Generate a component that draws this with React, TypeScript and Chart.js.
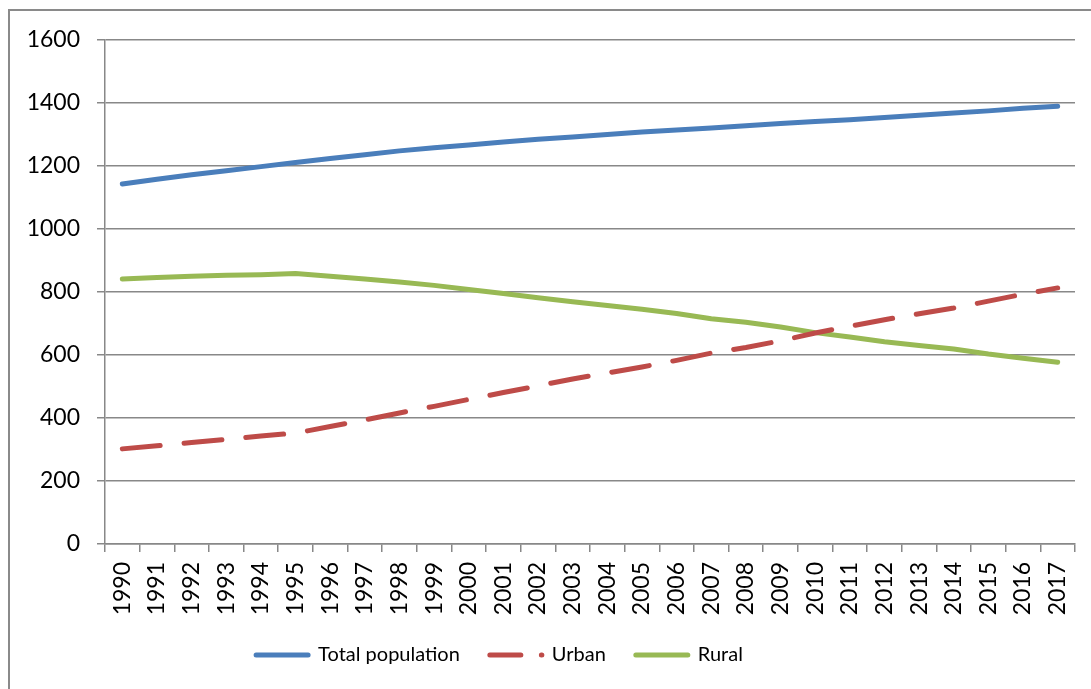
import React, { useEffect, useRef } from "react";
import { Chart, registerables } from "chart.js";

Chart.register(...registerables);

const years = [
  "1990", "1991", "1992", "1993", "1994", "1995", "1996", "1997", "1998", "1999",
  "2000", "2001", "2002", "2003", "2004", "2005", "2006", "2007", "2008", "2009",
  "2010", "2011", "2012", "2013", "2014", "2015", "2016", "2017",
];

const totalPopulation = [
  1143, 1158, 1172, 1185, 1198, 1211, 1224, 1236, 1248, 1258,
  1267, 1276, 1285, 1292, 1300, 1308, 1314, 1321, 1328, 1335,
  1341, 1347, 1354, 1361, 1368, 1375, 1383, 1390,
];

const urban = [
  302, 312, 322, 332, 343, 352, 373, 394, 416, 437,
  459, 481, 502, 524, 543, 562, 583, 606, 624, 645,
  670, 691, 712, 731, 749, 771, 793, 813,
];

const rural = [
  841, 846, 850, 853, 855, 859, 850, 841, 832, 821,
  808, 795, 782, 769, 757, 745, 732, 715, 704, 689,
  671, 657, 642, 630, 619, 603, 590, 577,
];

const seriesNames = ["Total population", "Urban", "Rural"];
const yMin = 0;
const yMax = 1600;
const yStep = 200;

const FONT = "Lato, 'Open Sans', sans-serif";
const GRID = "#888888";

export default function App() {
  const ref = useRef<HTMLCanvasElement | null>(null);

  useEffect(() => {
    if (!ref.current) return;
    const font = { family: FONT, size: 23 };
    const legendFont = { family: FONT, size: 20 };
    const legendShift = {
      id: "legendShift",
      afterLayout(chart: any) {
        if (chart.legend) {
          chart.legend.left -= 38;
          chart.legend.right -= 38;
        }
      },
    };
    const chart = new Chart(ref.current, {
      type: "line",
      data: {
        labels: years,
        datasets: [
          {
            label: seriesNames[0],
            data: totalPopulation,
            borderColor: "#4a7ebb",
            backgroundColor: "#4a7ebb",
            borderWidth: 5,
            pointRadius: 0,
            borderCapStyle: "round",
            borderJoinStyle: "round",
            tension: 0,
            fill: false,
          },
          {
            label: seriesNames[1],
            data: urban,
            borderColor: "#be4b48",
            backgroundColor: "#be4b48",
            borderWidth: 5,
            borderDash: [38, 24],
            pointRadius: 0,
            borderCapStyle: "round",
            borderJoinStyle: "round",
            tension: 0,
            fill: false,
          },
          {
            label: seriesNames[2],
            data: rural,
            borderColor: "#98b954",
            backgroundColor: "#98b954",
            borderWidth: 5,
            pointRadius: 0,
            borderCapStyle: "round",
            borderJoinStyle: "round",
            tension: 0,
            fill: false,
          },
        ],
      },
      options: {
        responsive: false,
        animation: false,
        events: [],
        layout: { padding: { left: 0, right: 16, top: 40, bottom: 14 } },
        plugins: {
          tooltip: { enabled: false },
          legend: {
            position: "bottom",
            labels: {
              usePointStyle: true,
              pointStyle: "line",
              pointStyleWidth: 52,
              font: legendFont,
              color: "#000",
              padding: 30,
              generateLabels(chart: any) {
                const items = Chart.defaults.plugins.legend.labels.generateLabels(chart);
                items.forEach((it: any) => {
                  it.lineCap = "round";
                  if (it.text === "Urban") it.lineDash = [31, 20.5];
                });
                return items;
              },
            },
          },
        },
        scales: {
          x: {
            offset: true,
            grid: {
              offset: true,
              drawOnChartArea: false,
              drawTicks: true,
              tickLength: 8,
              color: GRID,
              lineWidth: 1.5,
            },
            border: { color: GRID, width: 1.5 },
            ticks: {
              minRotation: 90,
              maxRotation: 90,
              autoSkip: false,
              font,
              color: "#000",
              padding: 10,
            },
            afterFit(scale: any) {
              scale.height = 71;
              scale.paddingLeft = 0;
              scale.paddingRight = 0;
            },
          },
          y: {
            min: yMin,
            max: yMax,
            ticks: {
              stepSize: yStep,
              font,
              color: "#000",
              padding: 17,
              callback: (v: any) => String(v),
            },
            grid: { color: GRID, lineWidth: 1.5, tickLength: 8 },
            border: { color: GRID, width: 1.5 },
            afterFit(scale: any) {
              scale.width = 105;
            },
          },
        },
      },
      plugins: [legendShift],
    } as any);
    return () => chart.destroy();
  }, []);

  return (
    <div
      style={{
        position: "fixed",
        left: 0,
        top: 0,
        width: 1091,
        height: 689,
        overflow: "hidden",
        background: "#fff",
      }}
    >
      <div
        style={{
          position: "absolute",
          left: 8,
          top: 9,
          width: 1200,
          height: 800,
          border: "2px solid #8a8a8a",
          boxSizing: "border-box",
        }}
      />
      <canvas
        ref={ref}
        width={1091}
        height={689}
        style={{ position: "absolute", left: 0, top: 0 }}
      />
    </div>
  );
}
